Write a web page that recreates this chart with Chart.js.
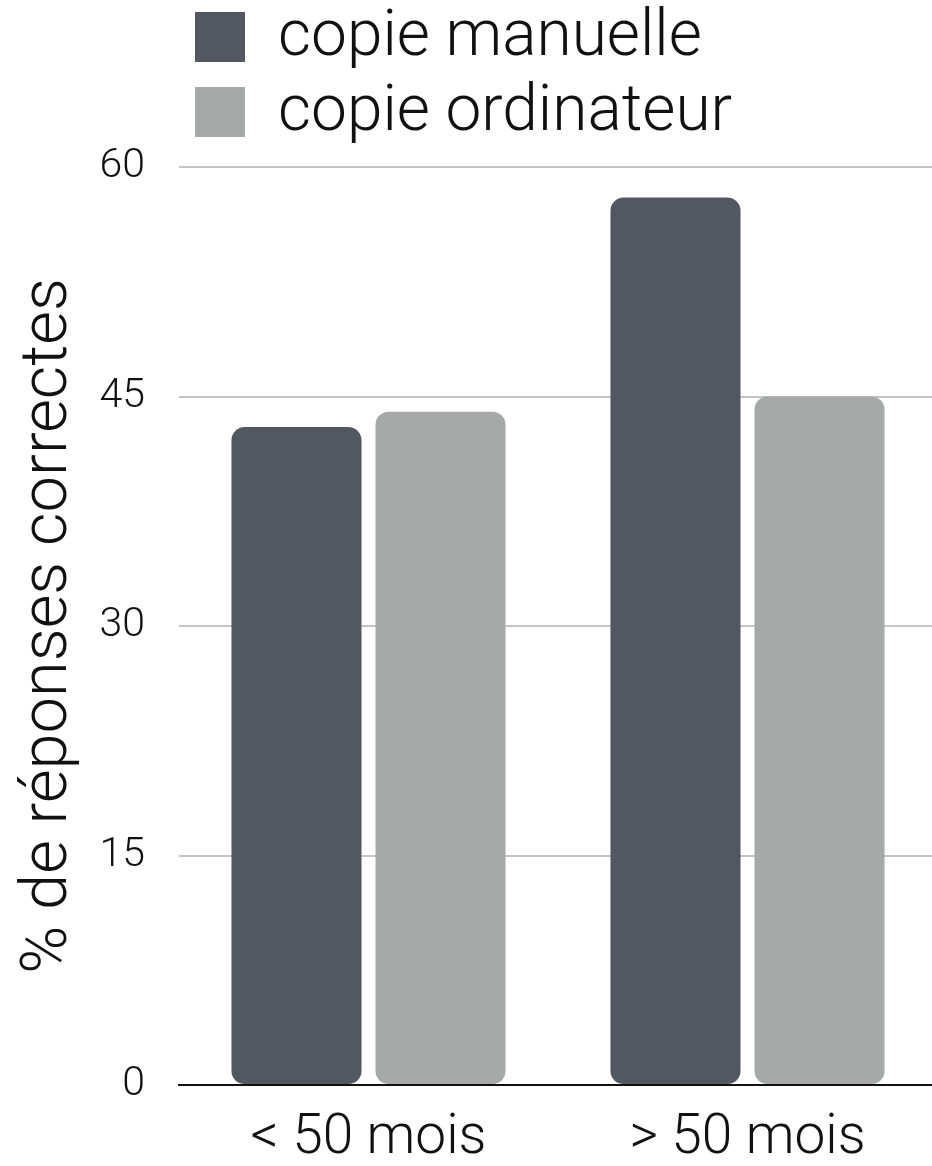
<!DOCTYPE html>
<html>
<head>
<meta charset="utf-8">
<script src="https://cdn.jsdelivr.net/npm/chart.js@4/dist/chart.umd.min.js"></script>
<style>
  html, body { margin: 0; padding: 0; background: #fff; }
  #wrap { position: relative; width: 932px; height: 1166px; overflow: hidden; }
  #legend { position: absolute; left: 195px; top: 0; font-family: Roboto, "Liberation Sans", sans-serif; font-weight: 300; color: #111; }
  .item { position: absolute; left: 0; white-space: nowrap; }
  .sw { position: absolute; left: 0; top: 0; width: 50px; height: 50px; }
  .lbl { position: absolute; left: 83px; top: -16px; font-size: 64px; line-height: 76px; }
</style>
</head>
<body>
<div id="wrap">
  <canvas id="c" width="932" height="1166"></canvas>
  <div id="legend"></div>
</div>
<script>
// Categories, series and tick values
const categories = ['< 50 mois', '> 50 mois'];
const seriesNames = ['copie manuelle', 'copie ordinateur'];
const manuelle = [43, 58];
const ordinateur = [44, 45];
const yTicks = [0, 15, 30, 45, 60];
const yTitle = '% de réponses correctes';
const seriesColors = ['#53575f', '#a6a9a8'];

const FONT = 'Roboto, "Liberation Sans", sans-serif';

// Legend (two stacked rows at the top left)
const legend = document.getElementById('legend');
const legendTops = [12, 87];
seriesNames.forEach((name, i) => {
  const item = document.createElement('div');
  item.className = 'item';
  item.style.top = legendTops[i] + 'px';
  const sw = document.createElement('div');
  sw.className = 'sw';
  sw.style.background = seriesColors[i];
  const lbl = document.createElement('div');
  lbl.className = 'lbl';
  lbl.textContent = name;
  item.appendChild(sw);
  item.appendChild(lbl);
  legend.appendChild(item);
});

const barStyle = {
  borderRadius: 13,
  borderSkipped: false,
  categoryPercentage: 0.76,
  barPercentage: 0.903
};

// The category axis runs a few pixels past the right edge of the canvas
const extendX = {
  id: 'extendX',
  afterLayout(chart) {
    const x = chart.scales.x;
    x.right += 5;
    x.width += 5;
    x.configure();
  }
};

new Chart(document.getElementById('c'), {
  type: 'bar',
  data: {
    labels: categories,
    datasets: [
      Object.assign({ label: seriesNames[0], data: manuelle, backgroundColor: seriesColors[0] }, barStyle),
      Object.assign({ label: seriesNames[1], data: ordinateur, backgroundColor: seriesColors[1] }, barStyle)
    ]
  },
  plugins: [extendX],
  options: {
    responsive: false,
    animation: false,
    layout: { padding: { top: 167, left: 0, right: 0, bottom: 0 } },
    plugins: {
      legend: { display: false },
      tooltip: { enabled: false }
    },
    scales: {
      x: {
        z: 1,
        grid: { display: false, drawTicks: false },
        border: { display: true, color: '#111', width: 2 },
        ticks: {
          color: '#111',
          padding: 21,
          font: { family: FONT, size: 55, weight: 300 }
        },
        afterFit: s => { s.height = 81; }
      },
      y: {
        min: 0,
        max: 60,
        afterBuildTicks: s => { s.ticks = yTicks.map(v => ({ value: v })); },
        grid: {
          drawTicks: false,
          lineWidth: 2,
          color: c => (c.tick && c.tick.value === 0) ? 'rgba(0,0,0,0)' : '#c4c4c4'
        },
        border: { display: false },
        ticks: {
          color: '#111',
          padding: 34,
          font: { family: FONT, size: 41, weight: 300 }
        },
        title: {
          display: true,
          text: yTitle,
          color: '#111',
          padding: { top: 11, bottom: 0 },
          font: { family: FONT, size: 65, weight: 300 }
        },
        afterFit: s => { s.width = 179; }
      }
    }
  }
});
</script>
</body>
</html>
